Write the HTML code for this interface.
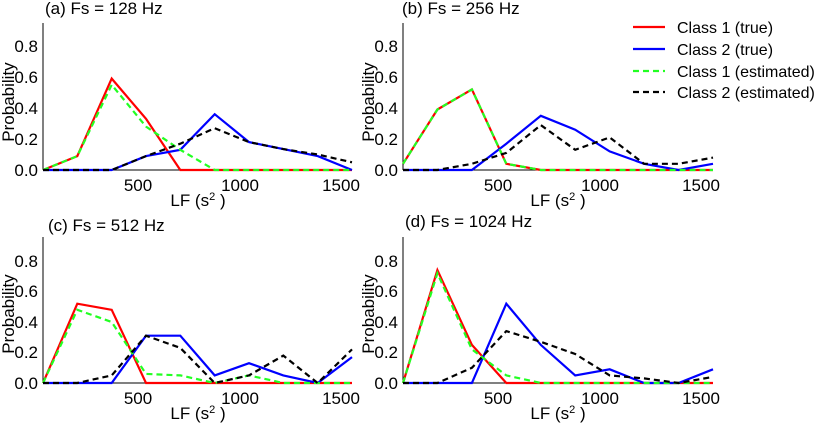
<!DOCTYPE html>
<html><head><meta charset="utf-8"><style>
body{margin:0;background:#fff;}
svg{display:block;font-family:"Liberation Sans",sans-serif;}
text{fill:#000;}
</style></head><body>
<svg id="s" width="814" height="424" viewBox="0 0 814 424">
<g font-size="17">
<text x="45" y="14">(a) Fs = 128 Hz</text>
<text x="402" y="14">(b) Fs = 256 Hz</text>
<text x="48" y="231">(c) Fs = 512 Hz</text>
<text x="405" y="227">(d) Fs = 1024 Hz</text>
</g>
<g font-size="17" text-anchor="end">
<text x="38" y="176">0.0</text><text x="38" y="145">0.2</text><text x="38" y="114">0.4</text><text x="38" y="83">0.6</text><text x="38" y="52">0.8</text>
<text x="398" y="176">0.0</text><text x="398" y="145">0.2</text><text x="398" y="114">0.4</text><text x="398" y="83">0.6</text><text x="398" y="52">0.8</text>
<text x="38" y="389">0.0</text><text x="38" y="358">0.2</text><text x="38" y="328">0.4</text><text x="38" y="297">0.6</text><text x="38" y="267">0.8</text>
<text x="398" y="389">0.0</text><text x="398" y="358">0.2</text><text x="398" y="328">0.4</text><text x="398" y="297">0.6</text><text x="398" y="267">0.8</text>
</g>
<g font-size="17" text-anchor="middle">
<text x="138" y="191">500</text><text x="240" y="191">1000</text><text x="341" y="191">1500</text>
<text x="498" y="191">500</text><text x="600" y="191">1000</text><text x="701" y="191">1500</text>
<text x="138" y="404">500</text><text x="240" y="404">1000</text><text x="341" y="404">1500</text>
<text x="498" y="404">500</text><text x="600" y="404">1000</text><text x="701" y="404">1500</text>
<text x="198" y="206">LF (s<tspan font-size="11" dy="-6">2</tspan><tspan dy="6"> )</tspan></text>
<text x="558" y="206">LF (s<tspan font-size="11" dy="-6">2</tspan><tspan dy="6"> )</tspan></text>
<text x="198" y="419">LF (s<tspan font-size="11" dy="-6">2</tspan><tspan dy="6"> )</tspan></text>
<text x="558" y="419">LF (s<tspan font-size="11" dy="-6">2</tspan><tspan dy="6"> )</tspan></text>
</g>
<g font-size="17" text-anchor="middle">
<text transform="translate(14,102) rotate(-90)">Probability</text>
<text transform="translate(374,102) rotate(-90)">Probability</text>
<text transform="translate(14,314) rotate(-90)">Probability</text>
<text transform="translate(374,314) rotate(-90)">Probability</text>
</g>
<g font-size="16">
<text x="677" y="33">Class 1 (true)</text>
<text x="677" y="55">Class 2 (true)</text>
<text x="677" y="77">Class 1 (estimated)</text>
<text x="677" y="98">Class 2 (estimated)</text>
</g>
<g stroke-width="2.2" fill="none">
<line x1="633" y1="27" x2="665" y2="27" stroke="#f00"/>
<line x1="633" y1="49" x2="665" y2="49" stroke="#00f"/>
<line x1="633" y1="71" x2="665" y2="71" stroke="#2f2" stroke-dasharray="6,4"/>
<line x1="633" y1="92" x2="665" y2="92" stroke="#000" stroke-dasharray="6,4"/>
</g>
<g id="plots"></g>
</svg>
<script>
var P=[
{x0:43,x1:352,y0:170,k:155,top:23,
r:[0,0.09,0.59,0.33,0,0,0,0,0,0],g:[0,0.09,0.55,0.28,0.13,0,0,0,0,0],
b:[0,0,0,0.09,0.13,0.36,0.18,0.135,0.09,0],k2:[0,0,0,0.09,0.17,0.27,0.18,0.135,0.1,0.05]},
{x0:403,x1:713,y0:170,k:155,top:23,
r:[0.04,0.39,0.52,0.04,0,0,0,0,0,0],g:[0.04,0.39,0.52,0.04,0,0,0,0,0,0],
b:[0,0,0,0.17,0.35,0.26,0.12,0.04,0,0.04],k2:[0,0,0.04,0.11,0.29,0.13,0.21,0.04,0.04,0.08]},
{x0:43,x1:352,y0:383,k:152.5,top:237,
r:[0,0.52,0.48,0,0,0,0,0,0,0],g:[0,0.48,0.40,0.06,0.05,0,0.05,0,0,0],
b:[0,0,0,0.31,0.31,0.05,0.13,0.05,0,0.17],k2:[0,0,0.05,0.31,0.23,0,0.05,0.18,0,0.22]},
{x0:403,x1:713,y0:383,k:152.5,top:237,
r:[0,0.74,0.25,0,0,0,0,0,0,0],g:[0,0.72,0.22,0.05,0,0,0,0,0,0],
b:[0,0,0,0.52,0.25,0.05,0.09,0,0,0.09],k2:[0,0,0.1,0.34,0.27,0.19,0.05,0.03,0,0.04]}];
var h='';
P.forEach(function(p){
 var dx=(p.x1-p.x0)/9;
 function pts(a){return a.map(function(v,i){return (p.x0+i*dx).toFixed(1)+','+(p.y0-v*p.k).toFixed(1)}).join(' ');}
 h+='<line x1="'+p.x0+'" y1="'+p.top+'" x2="'+p.x0+'" y2="'+p.y0+'" stroke="#000" stroke-width="1"/>';
 h+='<line x1="'+p.x0+'" y1="'+p.y0+'" x2="'+p.x1+'" y2="'+p.y0+'" stroke="#000" stroke-width="1"/>';
 h+='<polyline points="'+pts(p.r)+'" stroke="#f00" stroke-width="2.2" fill="none"/>';
 h+='<polyline points="'+pts(p.b)+'" stroke="#00f" stroke-width="2.2" fill="none"/>';
 h+='<polyline points="'+pts(p.g)+'" stroke="#2f2" stroke-width="2.2" fill="none" stroke-dasharray="6,4"/>';
 h+='<polyline points="'+pts(p.k2)+'" stroke="#000" stroke-width="2.2" fill="none" stroke-dasharray="6,4"/>';
});
document.getElementById('plots').innerHTML=h;
</script>
</body></html>
